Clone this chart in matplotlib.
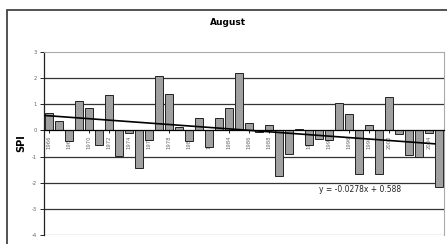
import matplotlib.pyplot as plt
from matplotlib.patches import Rectangle

# SPI values for August, one per year
years = list(range(1966, 2006))
spi = [0.66, 0.35, -0.40, 1.11, 0.85, -0.57, 1.37, -0.98, -0.10, -1.42,
       -0.35, 2.09, 1.39, 0.12, -0.40, 0.48, -0.65, 0.48, 0.85, 2.18,
       0.29, -0.05, 0.22, -1.75, -0.89, 0.07, -0.57, -0.34, -0.36, 1.04,
       0.61, -1.65, 0.22, -1.65, 1.29, -0.15, -0.95, -1.00, -0.08, -2.15]
trend_slope = -0.0278
trend_icept = 0.588
y_ticks = [3, 2, 1, 0, -1, -2, -3, -4]

fig = plt.figure(figsize=(4.47, 2.44), dpi=100, facecolor="white")

# outer chart frame (runs off the right and bottom of the picture)
fig.patches.append(Rectangle((7 / 447, -0.2), 1.2, 0.2 + (1 - 10 / 244),
                             transform=fig.transFigure, fill=False,
                             edgecolor="#444444", linewidth=1.3))

ax = fig.add_axes([44 / 447, 1 - 235 / 244, 400 / 447, (235 - 52) / 244])

x = list(range(1, len(spi) + 1))
ax.bar(x, spi, width=0.85, color="#a0a0a0", edgecolor="#222222",
       linewidth=0.7, zorder=2)

# linear trend line from the fitted equation
tx = [0.6, 39.6]
ty = [trend_slope * v + trend_icept for v in tx]
ax.plot(tx, ty, color="black", linewidth=1.2, zorder=4)

for yv in [2, 1, -1, -2, -3]:
    ax.axhline(yv, color="#333333", linewidth=0.9, zorder=1)

ax.set_xlim(0.5, len(spi) + 0.5)
ax.set_ylim(-4, 3)

ax.spines["bottom"].set_position(("data", 0))
ax.spines["bottom"].set_color("black")
ax.spines["bottom"].set_linewidth(0.9)
ax.spines["bottom"].set_zorder(5)
ax.spines["left"].set_color("#222222")
ax.spines["left"].set_linewidth(0.9)
ax.spines["top"].set_color("#aaaaaa")
ax.spines["right"].set_color("#aaaaaa")
ax.axhline(-4, color="#bbbbbb", linewidth=1.0, zorder=1)

ax.set_xticks(x[::2])
ax.set_xticklabels([str(y) for y in years[::2]], rotation=90,
                   fontsize=3.8, color="#666666")
ax.tick_params(axis="x", length=2, width=0.6, pad=1.5)
ax.set_yticks(y_ticks)
ax.set_yticklabels([str(v) for v in y_ticks], fontsize=3.8, color="#666666")
ax.tick_params(axis="y", length=3, width=0.6, pad=2)

ax.set_ylabel("SPI", fontsize=7, fontweight="bold", labelpad=4)
fig.text(228 / 447, 1 - 23 / 244, "August", fontsize=6.5,
         fontweight="bold", ha="center", va="center")
fig.text(360 / 447, 1 - 190 / 244, "y = -0.0278x + 0.588", fontsize=5.5,
         ha="center", va="center", color="#222222")

fig.savefig("out.png", dpi=100, facecolor="white")
